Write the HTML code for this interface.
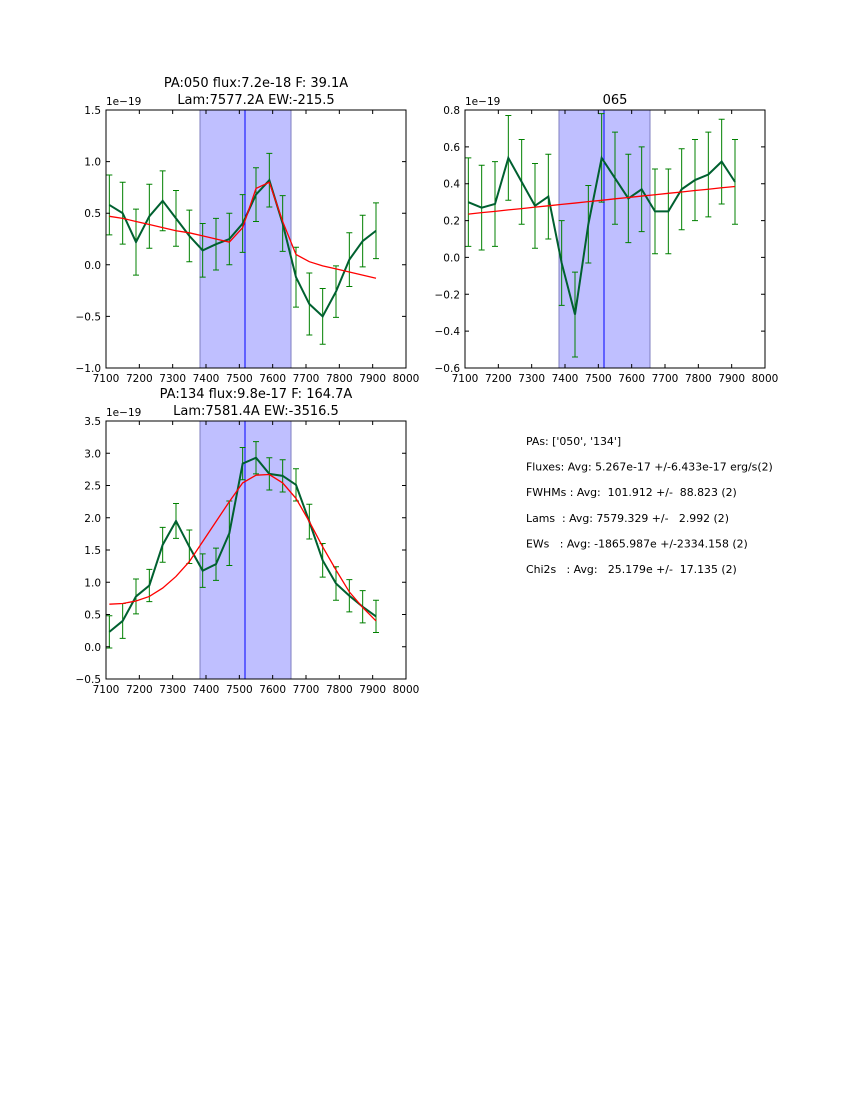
<!DOCTYPE html>
<html><head><meta charset="utf-8"><style>
body{margin:0;background:#fff;}
svg{font-family:"DejaVu Sans","Liberation Sans",sans-serif;}
text{white-space:pre;}
</style></head><body>
<svg id="fig" width="850" height="1100" viewBox="0 0 850 1100"></svg>
<script>
const xs=[7110,7150,7190,7230,7270,7310,7350,7390,7430,7470,7510,7550,7590,7630,7670,7710,7750,7790,7830,7870,7910];
const p1Data=[0.58,0.50,0.22,0.47,0.62,0.45,0.28,0.14,0.20,0.25,0.40,0.68,0.82,0.40,-0.12,-0.38,-0.50,-0.26,0.05,0.23,0.33];
const p1Err=[0.29,0.30,0.32,0.31,0.29,0.27,0.25,0.26,0.25,0.25,0.28,0.26,0.26,0.27,0.29,0.30,0.27,0.25,0.26,0.25,0.27];
const p1Fit=[0.47,0.45,0.42,0.39,0.36,0.33,0.31,0.28,0.25,0.22,0.36,0.74,0.80,0.42,0.10,0.03,-0.01,-0.04,-0.07,-0.10,-0.13];
const p2Data=[0.30,0.27,0.29,0.54,0.41,0.28,0.33,-0.03,-0.31,0.18,0.54,0.43,0.32,0.37,0.25,0.25,0.37,0.42,0.45,0.52,0.41];
const p2Err=[0.24,0.23,0.23,0.23,0.23,0.23,0.23,0.23,0.23,0.21,0.24,0.25,0.24,0.23,0.23,0.23,0.22,0.22,0.23,0.23,0.23];
const p2Fit=[0.235,0.243,0.250,0.258,0.265,0.273,0.280,0.288,0.295,0.303,0.310,0.318,0.325,0.333,0.340,0.348,0.355,0.363,0.370,0.378,0.385];
const p3Data=[0.23,0.40,0.78,0.95,1.58,1.95,1.55,1.18,1.28,1.76,2.84,2.93,2.68,2.65,2.51,1.94,1.34,0.98,0.79,0.62,0.47];
const p3Err=[0.25,0.27,0.27,0.25,0.27,0.27,0.26,0.26,0.25,0.50,0.25,0.25,0.25,0.25,0.25,0.27,0.26,0.26,0.25,0.25,0.25];
const p3Fit=[0.66,0.67,0.71,0.78,0.91,1.09,1.32,1.63,1.94,2.25,2.54,2.66,2.67,2.54,2.30,1.94,1.55,1.19,0.85,0.61,0.40];
const xTicks=[7100,7200,7300,7400,7500,7600,7700,7800,7900,8000];
const band=[7382,7655], cline=7517;
const NS="http://www.w3.org/2000/svg";
const svg=document.getElementById('fig');
function mk(tag,attrs,parent,text){const e=document.createElementNS(NS,tag);for(const k in attrs)e.setAttribute(k,attrs[k]);if(text!==undefined)e.textContent=text;(parent||svg).appendChild(e);return e;}
function panel(name,L,T,ymin,ymax,yTicks,dec,data,err,fit,titles){
  const W=300,H=258;
  const g=mk('g',{},svg);
  
  
  const X=v=>L+(v-7100)/900*W, Y=v=>T+H-(v-ymin)/(ymax-ymin)*H;
  const b=mk('rect',{x:X(band[0]),y:T,width:X(band[1])-X(band[0]),height:H,fill:'#bfbfff',stroke:'#7f7fbf','stroke-width':1},g);
  
  
  const vl=mk('line',{x1:X(cline),x2:X(cline),y1:T,y2:T+H,stroke:'#0000ff','stroke-width':1},g);
  
  
  xs.forEach((x,i)=>{
    const e=mk('path',{d:`M${X(x)},${Y(data[i]-err[i])}V${Y(data[i]+err[i])}M${X(x)-3},${Y(data[i]-err[i])}h6M${X(x)-3},${Y(data[i]+err[i])}h6`,stroke:'#008000','stroke-width':1,fill:'none'},g);
    
    
  });
  const dl=mk('polyline',{points:xs.map((x,i)=>X(x)+','+Y(data[i])).join(' '),fill:'none',stroke:'#006030','stroke-width':2},g);
  
  
  const fl=mk('polyline',{points:xs.map((x,i)=>X(x)+','+Y(fit[i])).join(' '),fill:'none',stroke:'#ff0000','stroke-width':1.3},g);
  
  
  const fr=mk('rect',{x:L,y:T,width:W,height:H,fill:'none',stroke:'#000','stroke-width':1},g);
  
  
  xTicks.forEach(t=>{const x=X(t);
    mk('path',{d:`M${x},${T+H}v-4M${x},${T}v4`,stroke:'#000'},g);
    const tl=mk('text',{x:x,y:T+H+14,'font-size':10.5,'text-anchor':'middle'},g,t);
    
    
  });
  yTicks.forEach(t=>{const y=Y(t);
    mk('path',{d:`M${L},${y}h4M${L+W},${y}h-4`,stroke:'#000'},g);
    const tl=mk('text',{x:L-5,y:y+4,'font-size':10.5,'text-anchor':'end'},g,t.toFixed(dec).replace('-','\u2212'));
    
    
  });
  const off=mk('text',{x:L,y:T-5,'font-size':10.5},g,'1e\u221219');
  
  
  titles.forEach((s,i)=>{
    const tt=mk('text',{x:L+W/2,y:T-(titles.length-i)*17+11,'font-size':13,'text-anchor':'middle'},g,s);
    
    
  });
}
panel('panel-pa050',106,110,-1,1.5,[-1,-0.5,0,0.5,1,1.5],1,p1Data,p1Err,p1Fit,['PA:050 flux:7.2e-18 F: 39.1A','Lam:7577.2A EW:-215.5']);
panel('panel-065',465,110,-0.6,0.8,[-0.6,-0.4,-0.2,0,0.2,0.4,0.6,0.8],1,p2Data,p2Err,p2Fit,['065']);
panel('panel-pa134',106,421,-0.5,3.5,[-0.5,0,0.5,1,1.5,2,2.5,3,3.5],1,p3Data,p3Err,p3Fit,['PA:134 flux:9.8e-17 F: 164.7A','Lam:7581.4A EW:-3516.5']);
const summary=["PAs: ['050', '134']","Fluxes: Avg: 5.267e-17 +/-6.433e-17 erg/s(2)","FWHMs : Avg:  101.912 +/-  88.823 (2)","Lams  : Avg: 7579.329 +/-   2.992 (2)","EWs   : Avg: -1865.987e +/-2334.158 (2)","Chi2s   : Avg:   25.179e +/-  17.135 (2)"];
summary.forEach((s,i)=>{
  const t=mk('text',{x:526,y:445+i*25.6,'font-size':10.9},svg,s);
  
  
});
</script>
</body></html>
